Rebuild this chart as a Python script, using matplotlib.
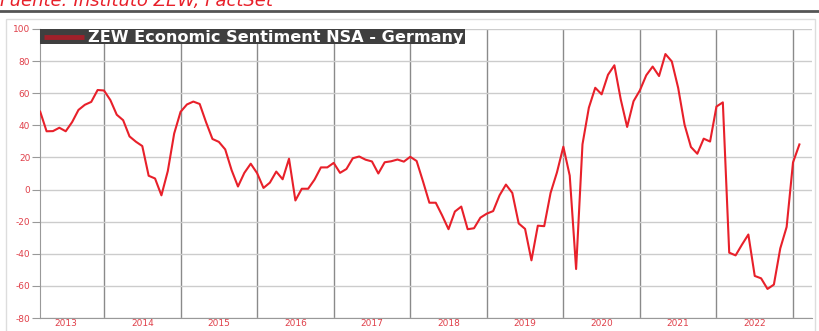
import matplotlib.pyplot as plt
import numpy as np
from matplotlib.patches import Rectangle

# ZEW sentiment, monthly, Mar 2013 .. Feb 2023
start_year = 2013
start_month = 3
zew = [48.5, 36.3, 36.4, 38.5, 36.3, 42.0, 49.6, 52.8, 54.6, 62.0,
       61.7, 55.7, 46.6, 43.2, 33.1, 29.8, 27.1, 8.6, 6.9, -3.6, 11.5, 34.9,
       48.4, 53.0, 54.8, 53.3, 41.9, 31.5, 29.7, 25.0, 12.1, 1.9, 10.4, 16.1,
       10.2, 1.0, 4.3, 11.2, 6.4, 19.2, -6.8, 0.5, 0.5, 6.2, 13.8, 13.8,
       16.6, 10.4, 12.8, 19.5, 20.6, 18.6, 17.5, 10.0, 17.0, 17.6, 18.7, 17.4,
       20.4, 17.8, 5.1, -8.2, -8.2, -16.1, -24.7, -13.7, -10.6, -24.7, -24.1, -17.5,
       -15.0, -13.4, -3.6, 3.1, -2.1, -21.1, -24.5, -44.1, -22.5, -22.8, -2.1, 10.7,
       26.7, 8.7, -49.5, 28.2, 51.0, 63.4, 59.3, 71.5, 77.4, 56.1, 39.0, 55.0,
       61.8, 71.2, 76.6, 70.7, 84.4, 79.8, 63.3, 40.4, 26.5, 22.3, 31.7, 29.9,
       51.7, 54.3, -39.3, -41.0, -34.3, -28.0, -53.8, -55.3, -61.9, -59.2, -36.7, -23.3,
       16.9, 28.1]
years = list(range(2013, 2023))
y_ticks = list(range(-80, 101, 20))
series_name = "ZEW Economic Sentiment NSA - Germany"
source = "Fuente: Instituto ZEW, FactSet"

x = start_year + (start_month - 1 + np.arange(len(zew))) / 12.0

W, H = 819, 331
fig = plt.figure(figsize=(W / 100, H / 100), dpi=100)
ax = fig.add_axes([40 / W, 1 - 318 / H, (812 - 40) / W, (318 - 29) / H])

red = '#e8202a'
lab = '#e0404a'

ax.plot(x, zew, color=red, lw=1.5, zorder=3)
ax.set_xlim(2013.164, 2023.248)
ax.set_ylim(-80, 100)

ax.set_yticks(y_ticks)
ax.set_yticklabels([str(v) for v in y_ticks])
ax.set_xticks([y + 1 for y in years])
ax.set_xticklabels([])
ax.set_xticks([y + 0.5 for y in years], minor=True)
ax.set_xticklabels([str(y) for y in years], minor=True)
ax.tick_params(axis='x', which='minor', length=0, labelsize=6.5, labelcolor=lab, pad=1)
ax.tick_params(axis='x', which='major', length=0)
ax.tick_params(axis='y', length=6, color='#999999', labelsize=6.5, labelcolor=lab, pad=1)

ax.grid(axis='y', color='#cccccc', lw=1.0)
ax.grid(axis='x', which='major', color='#8a8a8a', lw=1.0)
for s in ['top', 'right']:
    ax.spines[s].set_visible(False)
ax.spines['left'].set_color('#999999')
ax.spines['bottom'].set_color('#999999')

# legend bar
bar = Rectangle((0, 0.948), 425 / 772, 0.052, transform=ax.transAxes,
                facecolor='#3f3f3f', edgecolor='none', zorder=4, clip_on=False)
ax.add_patch(bar)
ax.plot([4 / 772, 44 / 772], [0.974, 0.974], transform=ax.transAxes,
        color='#a0202a', lw=3.5, zorder=5, solid_capstyle='butt')
ax.text(48 / 772, 0.972, series_name, transform=ax.transAxes, color='white',
        fontsize=11.6, fontweight='bold', va='center', ha='left', zorder=6)

# outer frame and header rule
fig.add_artist(plt.Line2D([0, 1], [1 - 11 / H, 1 - 11 / H], color='#555555', lw=2))
fig.add_artist(Rectangle((6 / W, -0.01), (815 - 6) / W, 1 - 19 / H + 0.01,
                         facecolor='none', edgecolor='#dddddd', lw=1))
fig.text(0, 1 - 6 / H, source, color=red, fontsize=13, style='italic',
         ha='left', va='baseline')

fig.savefig('out.png', dpi=100)
